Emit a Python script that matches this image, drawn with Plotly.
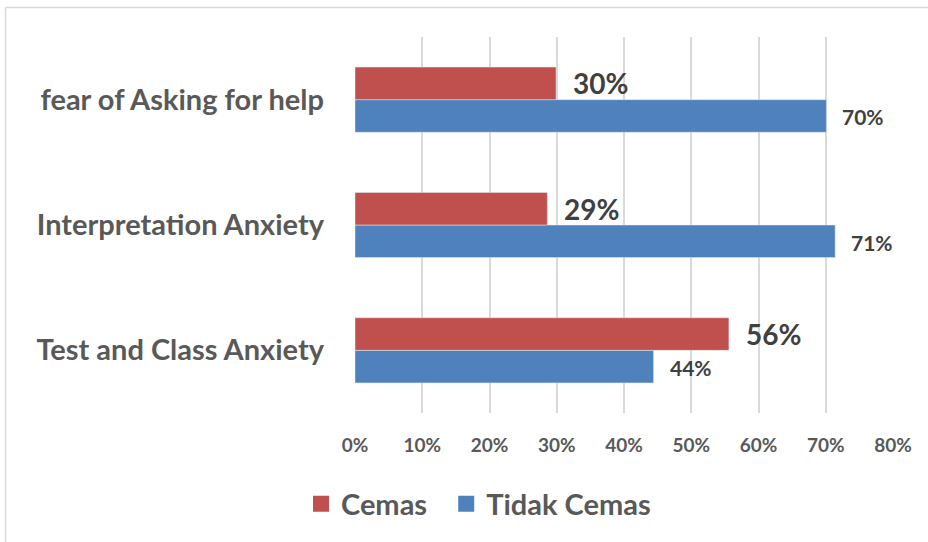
import plotly.graph_objects as go

categories = ["fear of Asking for help", "Interpretation Anxiety", "Test and Class Anxiety"]
cemas = [29.9, 28.6, 55.6]
tidak_cemas = [70.1, 71.4, 44.4]
cemas_labels = ["30%", "29%", "56%"]
tidak_labels = ["70%", "71%", "44%"]
tick_vals = [0, 10, 20, 30, 40, 50, 60, 70, 80]
tick_text = ["0%", "10%", "20%", "30%", "40%", "50%", "60%", "70%", "80%"]

RED = "#C0504D"
BLUE = "#4F81BD"
FONT = "Lato"

W, H = 928, 542
L, R, T, B = 355, 35, 37, 129
pw, ph = W - L - R, H - T - B

fig = go.Figure()
fig.add_trace(go.Bar(y=categories, x=tidak_cemas, orientation="h", name="Tidak Cemas",
                     marker=dict(color=BLUE), showlegend=False))
fig.add_trace(go.Bar(y=categories, x=cemas, orientation="h", name="Cemas",
                     marker=dict(color=RED), showlegend=False))
# legend entries (square swatches)
fig.add_trace(go.Scatter(x=[None], y=[None], mode="markers", name="Cemas\u00a0\u00a0",
                         marker=dict(symbol="square", size=19, color=RED), legendrank=1))
fig.add_trace(go.Scatter(x=[None], y=[None], mode="markers", name="Tidak Cemas",
                         marker=dict(symbol="square", size=19, color=BLUE), legendrank=2))

bar_px = 32.5
annotations = []
for c, v, lab in zip(categories, cemas, cemas_labels):
    annotations.append(dict(x=v, y=c, xref="x", yref="y", text=lab, showarrow=False,
                            xanchor="left", yanchor="middle", xshift=15, yshift=bar_px / 2,
                            font=dict(family=FONT, size=28, color="#404040", weight="bold")))
for c, v, lab in zip(categories, tidak_cemas, tidak_labels):
    annotations.append(dict(x=v, y=c, xref="x", yref="y", text=lab, showarrow=False,
                            xanchor="left", yanchor="middle", xshift=14, yshift=-bar_px / 2 - 1,
                            font=dict(family=FONT, size=21, color="#404040", weight="bold")))

fig.update_layout(
    width=W, height=H,
    margin=dict(l=L, r=R, t=T, b=B, pad=0),
    paper_bgcolor="white", plot_bgcolor="white",
    barmode="group", bargap=0.48, bargroupgap=0,
    font=dict(family=FONT, color="#595959"),
    annotations=annotations,
    legend=dict(orientation="h", x=(301 - L) / pw, xanchor="left",
                y=(T + ph - 504) / ph, yanchor="middle", itemsizing="trace",
                font=dict(family=FONT, size=29, color="#595959", weight="bold"),
                traceorder="normal"),
    shapes=[dict(type="line", xref="paper", yref="paper",
                 x0=(5.5 - L) / pw, x1=(940 - L) / pw, y0=(T + ph - 7.5) / ph, y1=(T + ph - 7.5) / ph,
                 line=dict(color="#D9D9D9", width=1.5)),
            dict(type="line", xref="paper", yref="paper",
                 x0=(5.5 - L) / pw, x1=(5.5 - L) / pw, y0=(T + ph - 7.5) / ph, y1=(T + ph - 560) / ph,
                 line=dict(color="#D9D9D9", width=1.5))],
)
fig.update_xaxes(range=[0, 80], tickvals=tick_vals, ticktext=tick_text,
                 showgrid=True, gridcolor="#D9D9D9", gridwidth=1.5,
                 zeroline=False, showline=False, ticks="",
                 ticklabelstandoff=19,
                 tickfont=dict(family=FONT, size=19, color="#595959", weight="bold"))
fig.update_yaxes(categoryorder="array", categoryarray=categories[::-1],
                 showgrid=False, zeroline=False, showline=False, ticks="",
                 ticklabelstandoff=30,
                 tickfont=dict(family=FONT, size=29, color="#595959", weight="bold"))

fig.write_html("out.html", config={"displayModeBar": False},
               post_script="document.body.style.margin='0';")
